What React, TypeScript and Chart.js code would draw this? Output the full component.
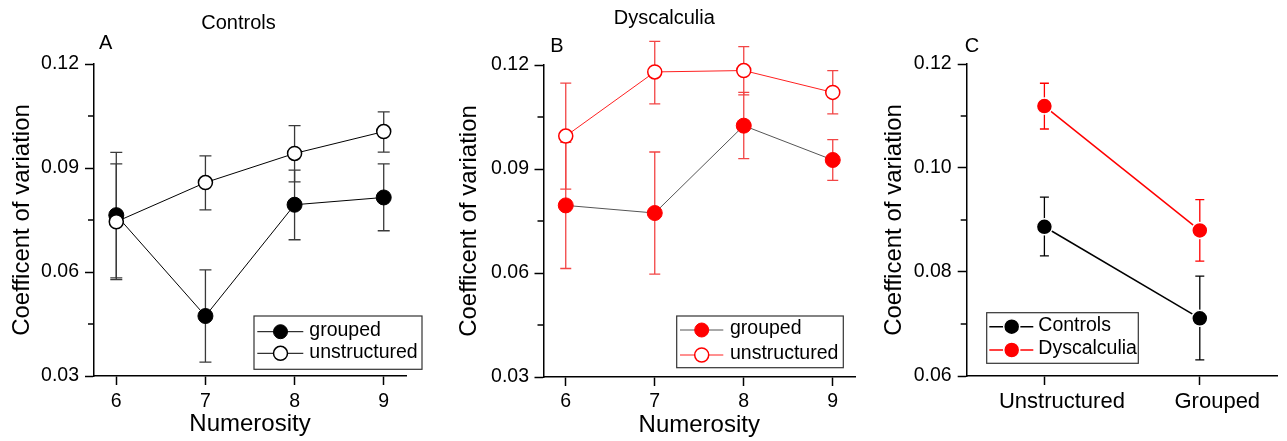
import React, { useEffect, useRef } from 'react';
import { Chart, registerables } from 'chart.js';

Chart.register(...registerables);

const FONT = "'Liberation Sans', Arial, Helvetica, sans-serif";
Chart.defaults.font.family = FONT;
Chart.defaults.color = '#000';

// ---------- Data ----------
const numerosity = [6, 7, 8, 9];

// Panel A – Controls
const ctrlGroupedMean = [0.0764, 0.0473, 0.0794, 0.0815];
const ctrlGroupedHigh = [0.0945, 0.0606, 0.0894, 0.0912];
const ctrlGroupedLow = [0.0583, 0.034, 0.0693, 0.0719];
const ctrlUnstructMean = [0.0745, 0.0858, 0.0942, 0.1005];
const ctrlUnstructHigh = [0.0912, 0.0935, 0.1022, 0.1062];
const ctrlUnstructLow = [0.0578, 0.0779, 0.086, 0.0946];

// Panel B – Dyscalculia
const dysGroupedMean = [0.0795, 0.0773, 0.1025, 0.0926];
const dysGroupedHigh = [0.0977, 0.0949, 0.1121, 0.0985];
const dysGroupedLow = [0.0613, 0.0597, 0.093, 0.0867];
const dysUnstructMean = [0.0995, 0.118, 0.1184, 0.1121];
const dysUnstructHigh = [0.1148, 0.1268, 0.1253, 0.1184];
const dysUnstructLow = [0.0842, 0.1088, 0.1114, 0.1059];

// Panel C – group means
const conditions = ['Unstructured', 'Grouped'];
const controlsMean = [0.0887, 0.0711];
const controlsHigh = [0.0944, 0.0792];
const controlsLow = [0.0831, 0.0631];
const dyscalculiaMean = [0.1119, 0.088];
const dyscalculiaHigh = [0.1163, 0.0939];
const dyscalculiaLow = [0.1075, 0.0821];

// Tick values
const yTicksAB = [0.03, 0.045, 0.06, 0.075, 0.09, 0.105, 0.12];
const yMajorAB = [0.03, 0.06, 0.09, 0.12];
const yTicksC = [0.06, 0.07, 0.08, 0.09, 0.1, 0.11, 0.12];
const yMajorC = [0.06, 0.08, 0.1, 0.12];

const Y_TITLE = 'Coefficent of variation';
const X_TITLE = 'Numerosity';
const TICK_SIZE = 19.5;

// ---------- helpers ----------
const isIn = (arr: number[], v: number) => arr.some((a) => Math.abs(a - v) < 1e-9);

const errorBarPlugin = {
  id: 'errorBars',
  beforeDatasetsDraw(chart: any) {
    const ctx = chart.ctx;
    const yScale = chart.scales.y;
    chart.data.datasets.forEach((ds: any, di: number) => {
      if (!ds.errHigh) return;
      const meta = chart.getDatasetMeta(di);
      ctx.save();
      ctx.strokeStyle = ds.errColor;
      ctx.lineWidth = ds.errWidth;
      meta.data.forEach((pt: any, i: number) => {
        const x = pt.x;
        const yH = yScale.getPixelForValue(ds.errHigh[i]);
        const yL = yScale.getPixelForValue(ds.errLow[i]);
        const c = ds.errCap;
        ctx.beginPath();
        ctx.moveTo(x, yH);
        ctx.lineTo(x, yL);
        ctx.moveTo(x - c, yH);
        ctx.lineTo(x + c, yH);
        ctx.moveTo(x - c, yL);
        ctx.lineTo(x + c, yL);
        ctx.stroke();
      });
      ctx.restore();
    });
  },
};

function minorTicksPlugin(minors: number[], len: number) {
  return {
    id: 'minorTicks',
    afterDraw(chart: any) {
      const ctx = chart.ctx;
      const ys = chart.scales.y;
      const left = chart.chartArea.left;
      ctx.save();
      ctx.strokeStyle = '#000';
      ctx.lineWidth = 1.5;
      minors.forEach((v) => {
        const y = ys.getPixelForValue(v);
        ctx.beginPath();
        ctx.moveTo(left - len, y);
        ctx.lineTo(left, y);
        ctx.stroke();
      });
      ctx.restore();
    },
  };
}

function textPlugin(items: { text: string; x: number; y: number; size: number }[]) {
  return {
    id: 'panelText',
    afterDraw(chart: any) {
      const ctx = chart.ctx;
      ctx.save();
      ctx.fillStyle = '#000';
      ctx.textAlign = 'center';
      ctx.textBaseline = 'middle';
      items.forEach((it) => {
        ctx.font = `${it.size}px ${FONT}`;
        ctx.fillText(it.text, it.x, it.y);
      });
      ctx.restore();
    },
  };
}

function legendPlugin(p: {
  box: [number, number, number, number];
  rows: number[];
  lineX: [number, number];
  markerX: number;
  textX: number;
  r: number;
  size: number;
}) {
  return {
    id: 'customLegend',
    afterDraw(chart: any) {
      const ctx = chart.ctx;
      ctx.save();
      const [x1, y1, x2, y2] = p.box;
      ctx.fillStyle = '#fff';
      ctx.fillRect(x1, y1, x2 - x1, y2 - y1);
      ctx.strokeStyle = '#333';
      ctx.lineWidth = 1.2;
      ctx.strokeRect(x1, y1, x2 - x1, y2 - y1);
      chart.data.datasets.forEach((ds: any, i: number) => {
        const y = p.rows[i];
        ctx.strokeStyle = ds.borderColor;
        ctx.lineWidth = ds.borderWidth;
        ctx.beginPath();
        ctx.moveTo(p.lineX[0], y);
        ctx.lineTo(p.lineX[1], y);
        ctx.stroke();
        ctx.beginPath();
        ctx.arc(p.markerX, y, p.r, 0, Math.PI * 2);
        ctx.fillStyle = ds.pointBackgroundColor;
        ctx.fill();
        ctx.strokeStyle = ds.pointBorderColor;
        ctx.lineWidth = ds.pointBorderWidth;
        ctx.stroke();
        ctx.fillStyle = '#000';
        ctx.font = `${p.size}px ${FONT}`;
        ctx.textAlign = 'left';
        ctx.textBaseline = 'middle';
        ctx.fillText(ds.label, p.textX, y - 1);
      });
      ctx.restore();
    },
  };
}

function yScale(o: {
  min: number;
  max: number;
  ticks: number[];
  major: number[];
  width: number;
  titlePad: number;
  labelPad: number;
}) {
  return {
    type: 'linear',
    min: o.min,
    max: o.max,
    afterBuildTicks: (s: any) => {
      s.ticks = o.ticks.map((v) => ({ value: v }));
    },
    afterFit: (s: any) => {
      s.width = o.width;
    },
    ticks: {
      autoSkip: false,
      padding: o.labelPad,
      font: { size: TICK_SIZE, family: FONT },
      color: '#000',
      callback: (v: number) => (isIn(o.major, v) ? v.toFixed(2) : ''),
    },
    grid: {
      drawOnChartArea: false,
      drawTicks: true,
      tickLength: 9,
      tickWidth: 1.5,
      tickColor: (c: any) => (c.tick && isIn(o.major, c.tick.value) ? '#000' : 'rgba(0,0,0,0)'),
    },
    border: { display: true, color: '#000', width: 1.5 },
    title: {
      display: true,
      text: Y_TITLE,
      color: '#000',
      font: { size: 24, family: FONT },
      padding: { top: o.titlePad, bottom: 0 },
    },
  };
}

function xNumScale(o: { height: number; labelPad: number; titlePad: number }) {
  return {
    type: 'linear',
    min: 5.75,
    max: 9.25,
    afterBuildTicks: (s: any) => {
      s.ticks = numerosity.map((v) => ({ value: v }));
    },
    afterFit: (s: any) => {
      s.height = o.height;
    },
    ticks: {
      autoSkip: false,
      maxRotation: 0,
      padding: o.labelPad,
      font: { size: TICK_SIZE, family: FONT },
      color: '#000',
      callback: (v: number) => String(v),
    },
    grid: { drawOnChartArea: false, drawTicks: true, tickLength: 9, tickWidth: 1.5, tickColor: '#000' },
    border: { display: true, color: '#000', width: 1.5 },
    title: {
      display: true,
      text: X_TITLE,
      color: '#000',
      font: { size: 24, family: FONT },
      padding: { top: 0, bottom: o.titlePad },
    },
  };
}

const pts = (ys: number[]) => numerosity.map((x, i) => ({ x, y: ys[i] }));

const baseOptions = {
  responsive: false,
  animation: false,
  devicePixelRatio: 1,
  events: [],
};

// ---------- configs ----------
function configA(): any {
  return {
    type: 'line',
    data: {
      datasets: [
        {
          label: 'grouped',
          data: pts(ctrlGroupedMean),
          borderColor: '#000',
          borderWidth: 1,
          pointBackgroundColor: '#000',
          pointBorderColor: '#000',
          pointBorderWidth: 1,
          pointRadius: 7.5,
          clip: false,
          order: 2,
          errHigh: ctrlGroupedHigh,
          errLow: ctrlGroupedLow,
          errColor: '#3a3a3a',
          errWidth: 1.3,
          errCap: 6,
        },
        {
          label: 'unstructured',
          data: pts(ctrlUnstructMean),
          borderColor: '#000',
          borderWidth: 1,
          pointBackgroundColor: '#fff',
          pointBorderColor: '#000',
          pointBorderWidth: 1.5,
          pointRadius: 7,
          clip: false,
          order: 1,
          errHigh: ctrlUnstructHigh,
          errLow: ctrlUnstructLow,
          errColor: '#3a3a3a',
          errWidth: 1.3,
          errCap: 6,
        },
      ],
    },
    options: {
      ...baseOptions,
      layout: { padding: { left: 0, top: 64, right: 24, bottom: 0 } },
      plugins: { legend: { display: false }, tooltip: { enabled: false }, title: { display: false } },
      scales: {
        x: xNumScale({ height: 65, labelPad: 4.5, titlePad: 2 }),
        y: yScale({ min: 0.03, max: 0.12, ticks: yTicksAB, major: yMajorAB, width: 94, titlePad: 7.6, labelPad: 6 }),
      },
    },
    plugins: [
      errorBarPlugin,
      minorTicksPlugin(yTicksAB.filter((v) => !isIn(yMajorAB, v)), 6),
      textPlugin([
        { text: 'Controls', x: 238.5, y: 23.5, size: 20 },
        { text: 'A', x: 105.7, y: 43.5, size: 20 },
      ]),
      legendPlugin({ box: [254, 316, 422, 369.3], rows: [331.7, 353.3], lineX: [257.3, 303.3], markerX: 280.5, textX: 309.3, r: 7, size: 19.5 }),
    ],
  };
}

function configB(): any {
  return {
    type: 'line',
    data: {
      datasets: [
        {
          label: 'grouped',
          data: pts(dysGroupedMean),
          borderColor: '#555',
          borderWidth: 1,
          pointBackgroundColor: '#ff0000',
          pointBorderColor: '#ff0000',
          pointBorderWidth: 1,
          pointRadius: 7.5,
          clip: false,
          order: 2,
          errHigh: dysGroupedHigh,
          errLow: dysGroupedLow,
          errColor: '#f24545',
          errWidth: 1.3,
          errCap: 5.5,
        },
        {
          label: 'unstructured',
          data: pts(dysUnstructMean),
          borderColor: '#ff2020',
          borderWidth: 1,
          pointBackgroundColor: '#fff',
          pointBorderColor: '#ff0000',
          pointBorderWidth: 1.5,
          pointRadius: 7,
          clip: false,
          order: 1,
          errHigh: dysUnstructHigh,
          errLow: dysUnstructLow,
          errColor: '#f24545',
          errWidth: 1.3,
          errCap: 5.5,
        },
      ],
    },
    options: {
      ...baseOptions,
      layout: { padding: { left: 0, top: 65, right: 15, bottom: 0 } },
      plugins: { legend: { display: false }, tooltip: { enabled: false }, title: { display: false } },
      scales: {
        x: xNumScale({ height: 64, labelPad: 3.7, titlePad: 1.5 }),
        y: yScale({ min: 0.03, max: 0.12, ticks: yTicksAB, major: yMajorAB, width: 113.5, titlePad: 24.6, labelPad: 5.5 }),
      },
    },
    plugins: [
      errorBarPlugin,
      minorTicksPlugin(yTicksAB.filter((v) => !isIn(yMajorAB, v)), 6),
      textPlugin([
        { text: 'Dyscalculia', x: 234.3, y: 18.5, size: 20 },
        { text: 'B', x: 127, y: 46, size: 20 },
      ]),
      legendPlugin({ box: [246.7, 316, 413.3, 367.7], rows: [330, 355], lineX: [250, 293.3], markerX: 271.7, textX: 300, r: 7, size: 19.5 }),
    ],
  };
}

function configC(): any {
  return {
    type: 'line',
    data: {
      labels: conditions,
      datasets: [
        {
          label: 'Controls',
          data: controlsMean,
          borderColor: '#000',
          borderWidth: 1.5,
          pointBackgroundColor: '#000',
          pointBorderColor: '#fff',
          pointBorderWidth: 1.5,
          pointRadius: 8,
          clip: false,
          errHigh: controlsHigh,
          errLow: controlsLow,
          errColor: '#000',
          errWidth: 1.3,
          errCap: 4.5,
        },
        {
          label: 'Dyscalculia',
          data: dyscalculiaMean,
          borderColor: '#ff0000',
          borderWidth: 1.5,
          pointBackgroundColor: '#ff0000',
          pointBorderColor: '#fff',
          pointBorderWidth: 1.5,
          pointRadius: 8,
          clip: false,
          errHigh: dyscalculiaHigh,
          errLow: dyscalculiaLow,
          errColor: '#ff0000',
          errWidth: 1.3,
          errCap: 4.5,
        },
      ],
    },
    options: {
      ...baseOptions,
      layout: { padding: { left: 0, top: 64, right: 9, bottom: 0 } },
      plugins: { legend: { display: false }, tooltip: { enabled: false }, title: { display: false } },
      scales: {
        x: {
          type: 'category',
          offset: true,
          afterFit: (s: any) => {
            s.height = 65;
          },
          ticks: {
            autoSkip: false,
            maxRotation: 0,
            padding: 4,
            labelOffset: 17.5,
            font: { size: 22, family: FONT },
            color: '#000',
          },
          grid: { drawOnChartArea: false, drawTicks: true, tickLength: 9, tickWidth: 1.5, tickColor: '#000', offset: false },
          border: { display: true, color: '#000', width: 1.5 },
        },
        y: yScale({ min: 0.06, max: 0.12, ticks: yTicksC, major: yMajorC, width: 96.7, titlePad: 9.6, labelPad: 6 }),
      },
    },
    plugins: [
      errorBarPlugin,
      minorTicksPlugin(yTicksC.filter((v) => !isIn(yMajorC, v)), 6),
      textPlugin([{ text: 'C', x: 102, y: 46, size: 20 }]),
      legendPlugin({ box: [116.7, 312.7, 268.3, 363.3], rows: [326.7, 350], lineX: [119.3, 163.3], markerX: 141.7, textX: 168.3, r: 8, size: 19.5 }),
    ],
  };
}

function Panel({ left, width, make }: { left: number; width: number; make: () => any }) {
  const ref = useRef<HTMLCanvasElement>(null);
  useEffect(() => {
    const chart = new Chart(ref.current as HTMLCanvasElement, make());
    return () => chart.destroy();
  }, []);
  return (
    <canvas
      ref={ref}
      width={width}
      height={441}
      style={{ position: 'absolute', left, top: 0, width, height: 441, display: 'block' }}
    />
  );
}

export default function App() {
  return (
    <div style={{ position: 'fixed', left: 0, top: 0, width: 1287, height: 441, background: '#fff', overflow: 'hidden' }}>
      <Panel left={0} width={430} make={configA} />
      <Panel left={430} width={440} make={configB} />
      <Panel left={870} width={417} make={configC} />
    </div>
  );
}
